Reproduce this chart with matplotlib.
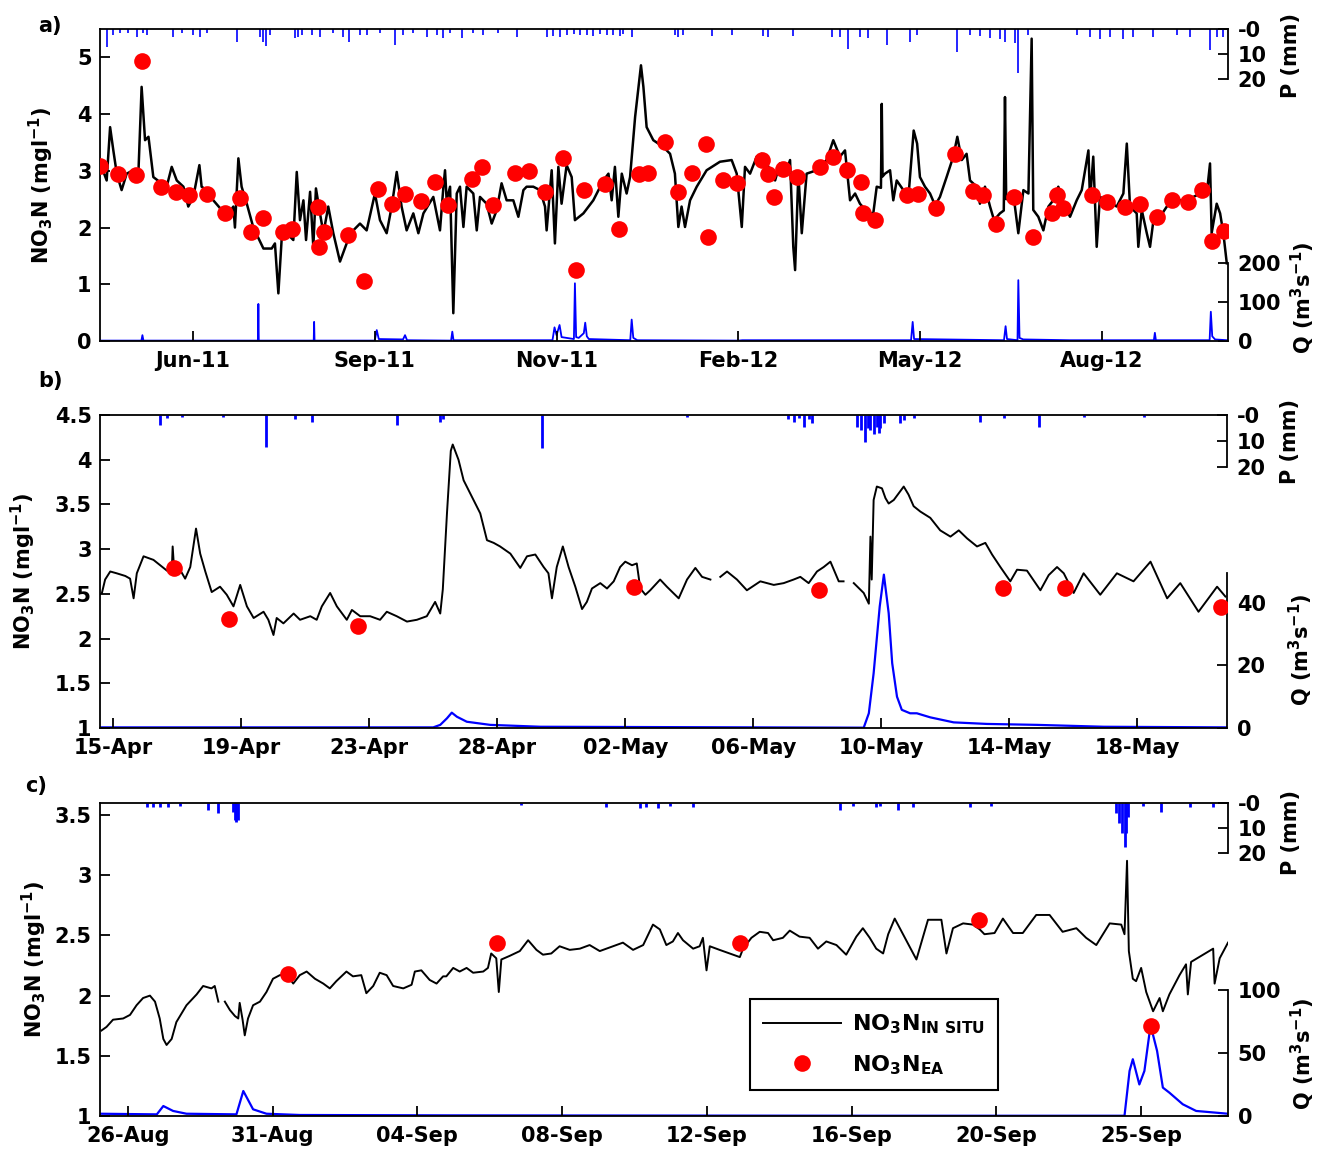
"""Three-panel NO3-N time series with discharge (Q) and rainfall (P) on twin axes."""

import numpy as np
import matplotlib

matplotlib.use("Agg")
import matplotlib.pyplot as plt
from matplotlib.ticker import FormatStrFormatter

# ---------------------------------------------------------------- panel a
# x: days from the left edge of the record (Apr 2011 - Oct 2012)
a_day = [0.8, 3.3, 5.0, 6.6, 8.3, 10.7, 13.2, 16.5, 19.0, 20.6, 22.3, 24.0, 26.4,
         29.7, 33.0, 35.5, 38.0, 41.3, 43.7, 46.2, 49.2, 50.3, 52.8, 56.1, 60.2,
         62.7, 66.0, 66.8, 68.5, 70.1, 72.6, 75.9, 80.9, 85.0, 86.6, 88.3, 89.9,
         92.4, 95.7, 97.4, 99.0, 100.7, 102.0, 104.0, 105.6, 106.9, 108.9, 110.6,
         113.0, 115.5, 118.8, 122.1, 125.4, 128.7, 132.0, 136.1, 138.6, 141.9,
         144.4, 146.9, 149.3, 151.8, 155.1, 157.6, 160.1, 165.0, 168.3, 170.0,
         170.8, 171.6, 173.3, 174.9, 176.6, 178.2, 179.9, 181.5, 184.8, 186.5,
         188.1, 191.4, 193.9, 196.4, 198.8, 201.3, 204.6, 207.1, 209.6, 211.2,
         214.5, 217.8, 220.3, 221.1, 223.6, 225.2, 226.9, 228.5, 231.0, 233.5,
         235.1, 239.3, 244.2, 249.2, 251.7, 253.3, 254.9, 256.6, 258.3, 260.7,
         262.4, 264.9, 267.8, 269.0, 270.6, 273.9, 278.9, 282.2, 284.6, 286.3,
         287.9, 289.6, 292.1, 295.4, 300.3, 306.9, 312.7, 315.2, 317.7, 319.3,
         321.8, 325.1, 327.6, 330.9, 334.2, 336.6, 339.9, 341.6, 343.2, 344.1,
         345.7, 347.4, 349.8, 354.8, 359.7, 363.0, 366.3, 368.8, 371.3, 373.8,
         376.2, 380.4, 382.8, 384.5, 386.6, 387.0, 387.4, 388.6, 391.1, 392.7,
         394.4, 397.7, 400.2, 402.8, 404.5, 405.9, 408.4, 410.9, 413.4, 415.8,
         419.1, 422.4, 424.4, 426.6, 429.0, 430.7, 434.0, 435.6, 438.1, 440.6,
         442.6, 445.5, 447.4, 448.0, 448.6, 449.7, 452.1, 454.6, 457.1, 459.6,
         461.2, 462.0, 464.5, 467.0, 469.5, 471.9, 474.4, 476.9, 480.2, 483.5,
         486.0, 489.3, 490.1, 491.7, 493.4, 495.0, 498.3, 503.3, 506.6, 508.3,
         509.9, 513.2, 514.0, 515.7, 518.2, 519.8, 521.5, 524.8, 528.1, 531.4,
         536.3, 541.3, 544.6, 547.9, 549.5, 550.3, 552.8, 554.5, 556.1, 557.8]
a_no3 = [3.07, 2.83, 3.77, 3.36, 2.95, 2.66, 2.95, 3.01, 2.95, 4.48, 3.54, 3.60, 2.89,
         2.80, 2.72, 3.07, 2.83, 2.72, 2.37, 2.54, 3.10, 2.72, 2.66, 2.48, 2.31,
         2.19, 2.37, 2.00, 3.22, 2.72, 2.43, 2.00, 1.63, 1.63, 1.72, 0.84, 1.78,
         1.90, 1.78, 2.98, 2.13, 2.48, 1.78, 2.63, 1.66, 2.69, 2.25, 1.90,
         2.37, 1.90, 1.40, 1.72, 1.95, 2.07, 1.95, 2.60, 2.13, 1.90,
         2.37, 2.98, 2.37, 1.95, 2.25, 1.90, 2.25, 2.54, 1.95, 2.72,
         3.01, 2.48, 2.72, 0.49, 2.60, 2.72, 2.01, 2.72, 2.60, 1.95,
         2.54, 2.42, 2.07, 2.31, 2.78, 2.48, 2.48, 2.19, 2.66, 2.72,
         2.72, 2.66, 2.37, 1.95, 3.01, 1.72, 3.07, 2.42, 3.10, 2.89,
         2.13, 2.25, 2.48, 2.83, 2.95, 2.48, 3.07, 2.19, 2.95, 2.60,
         2.89, 3.95, 4.86, 4.48, 3.77, 3.54, 3.42, 3.30, 2.95, 2.01,
         2.37, 2.01, 2.48, 2.72, 3.01, 3.16, 3.19, 2.95, 2.01, 3.07,
         2.95, 3.25, 3.30, 3.07, 2.83, 3.13, 3.01, 3.19, 1.66, 1.25,
         2.95, 1.90, 2.95, 3.01, 3.19, 3.54, 3.25, 3.36, 2.48, 2.60,
         2.42, 2.25, 2.25, 2.72, 2.70, 4.18, 2.90, 2.95, 3.01, 2.48,
         2.83, 2.66, 2.54, 3.71, 3.48, 2.89, 2.72, 2.60, 2.39, 2.54,
         2.89, 3.25, 3.60, 3.19, 3.30, 2.83, 2.72, 2.42, 2.72, 2.37,
         2.13, 2.25, 2.30, 4.30, 2.50, 2.54, 2.60, 1.90, 2.66, 2.60,
         5.33, 2.31, 2.19, 1.95, 2.37, 2.48, 2.72, 2.42, 2.19, 2.48,
         2.66, 3.36, 2.48, 3.25, 1.66, 2.54, 2.48, 2.37, 2.60, 3.48,
         2.37, 2.25, 1.66, 2.31, 1.90, 1.66, 2.13, 2.19, 2.37, 2.48,
         2.48, 2.54, 2.60, 2.60, 3.13, 1.90, 2.42, 2.25, 1.90, 1.37]

a_ea_day = [0.0, 9.1, 17.8, 21.0, 30.2, 37.6, 44.2, 53.1, 61.9, 69.3, 74.6, 80.9,
            90.4, 94.9, 108.1, 108.4, 111.1, 122.9, 130.9, 137.5, 144.4, 151.0,
            158.7, 165.8, 172.4, 184.0, 188.9, 194.7, 205.4, 212.5, 220.3, 229.0,
            235.6, 239.6, 250.0, 257.1, 267.0, 271.5, 279.8, 285.9, 293.2, 299.8,
            300.8, 308.6, 315.2, 327.6, 330.9, 333.7, 338.3, 344.9, 356.4, 363.0,
            369.9, 376.6, 377.9, 383.7, 399.3, 405.1, 413.9, 423.3, 432.3, 437.3,
            443.6, 452.5, 461.7, 471.1, 473.6, 476.6, 490.9, 498.3, 507.4, 514.9,
            523.1, 530.5, 538.8, 545.4, 550.3, 556.4]
a_ea_no3 = [3.09, 2.95, 2.92, 4.94, 2.71, 2.63, 2.57, 2.60, 2.25, 2.52, 1.92, 2.16,
            1.92, 1.98, 2.36, 1.66, 1.92, 1.87, 1.06, 2.68, 2.41, 2.59,
            2.47, 2.81, 2.40, 2.86, 3.07, 2.39, 2.97, 3.00, 2.63, 3.22,
            1.26, 2.66, 2.76, 1.98, 2.95, 2.96, 3.51, 2.63, 2.97, 3.48,
            1.83, 2.83, 2.78, 3.19, 2.95, 2.54, 3.04, 2.89, 3.07, 3.25,
            3.01, 2.81, 2.25, 2.13, 2.57, 2.60, 2.35, 3.29, 2.65, 2.57,
            2.07, 2.54, 1.83, 2.25, 2.57, 2.34, 2.57, 2.45, 2.37, 2.41,
            2.19, 2.48, 2.45, 2.66, 1.77, 1.94]

a_q_day = [0.0, 20.5, 21.0, 21.5, 78.2, 78.4, 78.6, 105.8, 106.0, 106.2, 136.0,
           137.0, 138.0, 150.0, 151.0, 152.0, 173.8, 174.4, 175.0, 224.0, 225.0,
           226.0, 227.5, 228.5, 234.6, 235.1, 235.7, 237.0, 239.5, 240.2, 241.0,
           242.0, 262.5, 263.2, 264.0, 266.0, 316.0, 318.0, 401.5, 402.3, 403.0,
           447.5, 448.3, 449.0, 454.2, 454.6, 455.2, 457.0, 480.0, 500.0, 521.7,
           522.2, 522.7, 549.3, 549.9, 550.6, 552.0, 558.0]
a_q = [1, 1, 15, 1, 1, 95, 1, 1, 49, 1, 1,
       28, 5, 4, 15, 2, 1, 24, 2, 2, 35,
       15, 41, 10, 5, 148, 10, 8, 20, 47, 12,
       5, 2, 55, 8, 2, 1, 2, 2, 49, 5,
       2, 38, 5, 2, 156, 8, 4, 2, 2, 2,
       21, 2, 2, 75, 12, 4, 2]

a_p_day = [3.3, 6.6, 9.9, 14.0, 18.2, 21.5, 23.1, 36.3, 40.4, 46.2, 49.5, 52.8,
           67.7, 79.2, 80.9, 82.0, 84.2, 96.5, 98.2, 99.8, 104.8, 108.9, 115.5,
           120.5, 123.4, 128.7, 132.0, 138.6, 146.0, 150.2, 155.1, 161.7, 166.7,
           170.0, 173.3, 179.0, 184.8, 189.8, 197.2, 206.3, 221.1, 224.4, 227.7,
           231.0, 234.6, 237.6, 240.9, 244.2, 247.5, 250.8, 254.1, 257.4, 259.0,
           263.2, 284.7, 286.3, 288.8, 302.8, 312.7, 328.4, 330.9, 343.2, 362.2,
           366.3, 370.5, 376.2, 380.4, 389.4, 401.0, 404.3, 424.1, 430.7, 435.6,
           440.6, 445.5, 448.0, 452.9, 454.3, 459.6, 483.5, 490.1, 495.0, 500.0,
           506.6, 511.6, 521.5, 533.1, 539.6, 549.5, 552.8, 556.1]
a_p = [7.1, 2.4, 1.7, 1.7, 3.1, 1.7, 2.4, 3.1, 1.7, 2.4, 3.1, 1.7,
       5.1, 3.1, 5.1, 6.7, 2.4, 3.7, 3.1, 2.4, 2.4, 3.1, 1.7,
       3.1, 5.3, 2.4, 2.4, 1.7, 6.4, 2.4, 1.7, 3.1, 2.4,
       3.7, 1.7, 3.7, 1.7, 2.4, 1.7, 3.1, 3.1, 2.8, 3.3,
       2.4, 2.0, 2.4, 2.4, 2.8, 2.0, 2.4, 2.4, 2.8, 2.0,
       3.1, 2.4, 3.1, 2.4, 2.8, 2.4, 2.8, 3.1, 2.8, 3.3,
       3.3, 8.1, 3.1, 3.7, 6.4, 5.1, 2.4, 9.3, 2.4, 2.8,
       3.7, 4.1, 5.1, 5.7, 17.5, 2.4, 2.4, 3.1, 4.1, 3.1,
       4.1, 3.1, 3.1, 2.4, 3.1, 8.4, 3.1, 3.1]

a_tick_day = [46, 136, 226, 316, 406, 496]
a_tick_label = ["Jun-11", "Sep-11", "Nov-11", "Feb-12", "May-12", "Aug-12"]

# ---------------------------------------------------------------- panel b
# x: days from 15-Apr (tick spacing of 4)
b_t = [-0.35, -0.25, -0.09, 0.11, 0.38, 0.53, 0.64, 0.74, 0.95, 1.26, 1.47, 1.68,
       1.83, 1.86, 1.91, 2.09, 2.25, 2.41, 2.59, 2.72, 2.88, 3.08, 3.34, 3.55,
       3.76, 3.97, 4.18, 4.39, 4.70, 4.85, 5.01, 5.11, 5.32, 5.64, 5.84, 6.16,
       6.36, 6.52, 6.78, 6.99, 7.30, 7.46, 7.72, 8.03, 8.34, 8.55, 8.86, 9.18,
       9.49, 9.80, 10.06, 10.22, 10.30, 10.43, 10.55, 10.61, 10.79, 10.95, 11.26,
       11.47, 11.68, 11.89, 12.09, 12.41, 12.72, 12.93, 13.19, 13.45, 13.60, 13.71,
       13.86, 14.05, 14.23, 14.44, 14.65, 14.80, 14.96, 15.22, 15.43, 15.64, 15.84,
       16.00, 16.21, 16.36, 16.47, 16.63, 16.78, 17.09, 17.30, 17.67, 17.93, 18.19,
       18.40, 18.66, 18.80, 18.97, 19.18, 19.49, 19.80, 20.22, 20.64, 20.95, 21.26,
       21.47, 21.73, 21.99, 22.20, 22.41, 22.67, 22.82, 23.00, 23.14, 23.45, 23.61,
       23.66, 23.70, 23.76, 23.86, 24.02, 24.13, 24.23, 24.39, 24.70, 24.85, 25.01,
       25.22, 25.53, 25.84, 26.16, 26.42, 26.68, 26.99, 27.25, 27.46, 27.72, 28.03,
       28.24, 28.55, 28.97, 29.23, 29.49, 29.70, 30.01, 30.32, 30.84, 31.36, 31.88,
       32.41, 32.93, 33.34, 33.91, 34.49, 34.75]
b_no3 = [2.51, 2.66, 2.75, 2.73, 2.70, 2.67, 2.45, 2.73, 2.92, 2.88, 2.82, 2.76,
         2.73, 3.03, 2.75, 2.77, 2.67, 2.80, 3.23, 2.95, 2.75, 2.52, 2.58, 2.49,
         2.36, 2.60, 2.36, 2.23, 2.30, 2.21, 2.04, 2.23, 2.17, 2.28, 2.21, 2.25,
         2.21, 2.36, 2.51, 2.36, 2.21, 2.32, 2.25, 2.25, 2.21, 2.30, 2.25, 2.19,
         2.21, 2.25, 2.41, 2.28, 2.55, 3.40, 4.10, 4.17, 4.00, 3.77, 3.55,
         3.40, 3.10, 3.07, 3.03, 2.95, 2.79, 2.92, 2.94, 2.80, 2.73, 2.45,
         2.80, 3.03, 2.80, 2.58, 2.33, 2.41, 2.56, 2.62, 2.56, 2.64, 2.80,
         2.86, 2.82, 2.84, 2.56, 2.49, 2.54, 2.66, 2.58, 2.45, 2.66, 2.79,
         2.69, 2.66, np.nan, 2.69, 2.75, 2.66, 2.54, 2.64, 2.60, 2.62, 2.66,
         2.69, 2.62, 2.75, 2.80, 2.86, 2.64, 2.64, np.nan, 2.62, 2.51, 2.39,
         3.14, 2.66, 3.55, 3.70, 3.68, 3.57, 3.51, 3.55, 3.70, 3.61, 3.48,
         3.42, 3.35, 3.21, 3.14, 3.21, 3.12, 3.03, 3.07, 2.94, 2.80, 2.64,
         2.77, 2.76, 2.54, 2.71, 2.80, 2.73, 2.51, 2.73, 2.49, 2.73, 2.64,
         2.86, 2.45, 2.62, 2.30, 2.58, 2.47]

b_ea_t = [1.91, 3.61, 7.65, 16.27, 22.04, 27.79, 29.75, 34.62]
b_ea_no3 = [2.79, 2.22, 2.14, 2.58, 2.54, 2.57, 2.57, 2.35]

b_q_t = [-0.41, 10.00, 10.22, 10.43, 10.58, 10.74, 11.05, 11.78, 13.35, 23.45,
         23.61, 23.76, 23.95, 24.08, 24.23, 24.34, 24.49, 24.64, 24.90, 25.11,
         25.53, 26.26, 27.30, 28.86, 30.95, 34.80]
b_q = [0.2, 0.2, 1.0, 3.1, 4.9, 3.6, 2.0, 1.0, 0.4, 0.1,
       4.7, 17.5, 38.8, 49.0, 36.7, 20.7, 10.0, 5.8, 4.7, 4.7,
       3.4, 1.8, 1.3, 1.0, 0.4, 0.2]

b_p_t = [1.47, 1.68, 2.14, 3.44, 4.77, 5.69, 6.21, 8.86, 10.22, 10.32, 13.40,
         17.93, 21.10, 21.26, 21.42, 21.57, 21.73, 21.84, 23.24, 23.35, 23.49,
         23.58, 23.66, 23.76, 23.87, 23.92, 23.97, 24.07, 24.59, 24.70, 25.01,
         27.09, 27.82, 28.92, 30.32, 32.20]
b_p = [3.8, 1.3, 0.9, 0.6, 12.2, 1.7, 2.6, 3.8, 2.6, 1.7, 12.8,
       0.6, 1.7, 2.6, 1.3, 4.5, 1.7, 2.9, 4.5, 5.8, 10.3,
       5.1, 5.8, 7.1, 4.5, 6.8, 5.1, 3.2, 2.9, 1.9, 1.3,
       2.6, 1.3, 4.5, 0.9, 0.9]

b_tick_t = [0, 4, 8, 12, 16, 20, 24, 28, 32]
b_tick_label = ["15-Apr", "19-Apr", "23-Apr", "28-Apr", "02-May", "06-May",
                "10-May", "14-May", "18-May"]

# ---------------------------------------------------------------- panel c
# x: days from 26-Aug (tick spacing of 4)
c_t = [-0.73, -0.59, -0.41, -0.13, 0.06, 0.24, 0.42, 0.61, 0.75, 0.88, 0.98, 1.07,
       1.21, 1.34, 1.62, 1.90, 2.08, 2.31, 2.40, 2.50, 2.59, 2.68, 2.82, 2.96,
       3.05, 3.09, 3.17, 3.23, 3.32, 3.46, 3.65, 3.83, 4.01, 4.20, 4.38, 4.57,
       4.75, 4.94, 5.17, 5.40, 5.58, 5.76, 6.04, 6.22, 6.45, 6.59, 6.78, 6.96,
       7.15, 7.33, 7.61, 7.84, 7.93, 8.11, 8.34, 8.53, 8.71, 8.80, 8.99, 9.17,
       9.36, 9.54, 9.82, 9.95, 10.04, 10.18, 10.25, 10.32, 10.55, 10.83, 11.06,
       11.29, 11.47, 11.70, 11.93, 12.21, 12.49, 12.76, 13.04, 13.41, 13.68, 13.96,
       14.24, 14.51, 14.70, 14.88, 15.06, 15.20, 15.34, 15.62, 15.80, 15.89, 15.99,
       16.08, 16.35, 16.63, 16.91, 17.00, 17.23, 17.46, 17.69, 17.83, 18.10, 18.29,
       18.56, 18.84, 19.07, 19.30, 19.58, 19.85, 20.13, 20.31, 20.50, 20.68, 20.87,
       21.01, 21.19, 21.42, 21.79, 22.11, 22.48, 22.62, 22.80, 23.08, 23.35, 23.54,
       23.67, 23.95, 24.18, 24.46, 24.73, 25.10, 25.47, 25.83, 26.21, 26.48, 26.76,
       27.13, 27.45, 27.54, 27.61, 27.66, 27.77, 27.86, 28.00, 28.14, 28.33, 28.51,
       28.60, 28.78, 29.06, 29.24, 29.29, 29.38, 29.71, 29.99, 30.03, 30.17, 30.40]
c_no3 = [1.71, 1.74, 1.80, 1.81, 1.84, 1.92, 1.98, 2.00, 1.95, 1.81, 1.64, 1.59,
         1.64, 1.78, 1.92, 2.01, 2.08, 2.06, 2.08, 1.95, np.nan, 1.95, 1.88, 1.83,
         1.81, 1.94, 1.80, 1.67, 1.81, 1.92, 1.95, 2.03, 2.14, 2.17, 2.18, 2.10,
         2.17, 2.20, 2.14, 2.10, 2.06, 2.12, 2.20, 2.16, 2.17, 2.02, 2.08, 2.19,
         2.17, 2.08, 2.06, 2.09, 2.20, 2.21, 2.13, 2.10, 2.16, 2.16, 2.23, 2.20,
         2.23, 2.19, 2.20, 2.23, 2.35, 2.31, 2.03, 2.30, 2.33, 2.37, 2.46,
         2.38, 2.34, 2.35, 2.41, 2.38, 2.39, 2.42, 2.37, 2.41, 2.44, 2.38,
         2.42, 2.59, 2.55, 2.42, 2.45, 2.52, 2.46, 2.39, 2.41, 2.48, 2.21,
         2.41, 2.38, 2.35, 2.32, 2.39, 2.48, 2.53, 2.52, 2.46, 2.48, 2.54,
         2.49, 2.48, 2.39, 2.45, 2.42, 2.34, 2.49, 2.56, 2.48, 2.39, 2.35,
         2.51, 2.64, 2.51, 2.30, 2.63, 2.63, 2.35, 2.56, 2.60, 2.59, 2.55,
         2.51, 2.52, 2.64, 2.52, 2.52, 2.67, 2.67, 2.53, 2.56, 2.48, 2.42,
         2.60, 2.59, 2.51, 3.12, 2.37, 2.14, 2.12, 2.23, 2.03, 1.87, 1.98,
         1.87, 2.01, 2.17, 2.26, 2.01, 2.28, 2.34, 2.39, 2.10, 2.31, 2.44]

c_ea_t = [4.43, 10.21, 16.91, 23.52, 28.26]
c_ea_no3 = [2.18, 2.44, 2.44, 2.63, 1.75]

c_q_t = [-0.77, 0.80, 0.98, 1.25, 1.62, 3.00, 3.19, 3.46, 3.83, 4.75, 8.90, 20.50,
         27.54, 27.68, 27.77, 27.95, 28.09, 28.26, 28.44, 28.60, 28.78, 29.15,
         29.52, 30.40]
c_q = [1.8, 1.3, 7.9, 4.0, 1.8, 1.3, 19.8, 5.3, 1.8, 0.8, 0.5, 0.2,
       0.2, 35.7, 45.0, 25.0, 35.7, 72.0, 51.6, 22.5, 18.5, 9.3,
       4.0, 1.8]

c_p_t = [0.52, 0.70, 0.88, 1.10, 1.44, 2.22, 2.50, 2.91, 2.96, 3.00, 3.05, 10.87,
         13.22, 14.14, 14.31, 14.65, 14.97, 15.62, 19.67, 20.04, 20.68, 20.77,
         21.28, 21.69, 23.26, 23.86, 27.31, 27.40, 27.47, 27.54, 27.59, 27.63,
         28.05, 28.56, 29.35, 29.99]
c_p = [1.5, 1.5, 1.5, 1.5, 1.0, 2.8, 4.1, 3.5, 6.8, 7.5, 6.8, 0.8,
       1.5, 2.1, 1.5, 2.1, 1.2, 1.7, 2.8, 1.2, 1.5, 1.2,
       2.8, 1.7, 1.7, 1.2, 4.1, 8.1, 12.1, 17.5, 12.1, 5.5,
       1.2, 3.5, 1.5, 1.5]

c_tick_t = [0, 4, 8, 12, 16, 20, 24, 28]
c_tick_label = ["26-Aug", "31-Aug", "04-Sep", "08-Sep", "12-Sep", "16-Sep",
                "20-Sep", "25-Sep"]

# ---------------------------------------------------------------- style
FONT = 15
plt.rcParams.update({
    "font.family": "DejaVu Sans",
    "font.weight": "bold",
    "font.size": FONT,
    "mathtext.fontset": "custom",
    "mathtext.rm": "DejaVu Sans:bold",
    "mathtext.it": "DejaVu Sans:bold",
    "mathtext.bf": "DejaVu Sans:bold",
    "axes.linewidth": 1.3,
})

BLUE = "#0000ff"
RED = "#ff0000"
W, H = 1321, 1152

fig = plt.figure(figsize=(W / 100, H / 100), dpi=100)


def px_rect(left, top, right, bottom):
    return [left / W, 1 - bottom / H, (right - left) / W, (bottom - top) / H]


def draw_panel(rect, t, no3, ea_t, ea_no3, q_t, q, p_t, p, *, xlim, xticks,
               xticklabels, ylim, yticks, q_lim, q_ticks, q_top, p_lim, lw_black,
               lw_q, lw_p, ylab_x, q_lab_y, p_lab_y):
    ax = fig.add_axes(rect)
    ax_q = ax.twinx()
    ax_p = ax.twinx()
    ax.set_zorder(3)
    ax.patch.set_visible(False)

    ax.plot(t, no3, color="black", lw=lw_black, zorder=2)
    ax.plot(ea_t, ea_no3, "o", color=RED, ms=12, mec="none", zorder=3)
    ax.set_xlim(*xlim)
    ax.set_ylim(*ylim)
    ax.set_xticks(xticks, xticklabels)
    ax.set_yticks(yticks)
    ax.yaxis.set_major_formatter(FormatStrFormatter("%g"))
    ax.spines["right"].set_visible(False)
    ax.tick_params(direction="in", length=7, width=1.3, pad=6)
    ax.tick_params(axis="x", pad=7)
    ax.text(ylab_x, 0.5, r"NO$_3$N (mgl$^{-1}$)", transform=ax.transAxes,
            rotation=90, ha="center", va="center")

    ax_q.plot(q_t, q, color=BLUE, lw=lw_q)
    ax_q.set_ylim(0, q_lim)
    ax_q.set_yticks(q_ticks)
    ax_q.spines["right"].set_bounds(0, q_top)
    for side in ("left", "top", "bottom"):
        ax_q.spines[side].set_visible(False)
    ax_q.tick_params(direction="in", length=7, width=1.3, pad=7)
    ax_q.text(1.066, q_lab_y, r"Q (m$^3$s$^{-1}$)", transform=ax_q.transAxes,
              rotation=90, ha="center", va="center")

    ax_p.vlines(p_t, 0, p, color=BLUE, lw=lw_p)
    ax_p.set_ylim(p_lim, 0)
    ax_p.set_yticks([0, 10, 20], ["-0", "10", "20"])
    ax_p.spines["right"].set_bounds(0, 20)
    for side in ("left", "top", "bottom"):
        ax_p.spines[side].set_visible(False)
    ax_p.tick_params(direction="in", length=7, width=1.3, pad=7)
    ax_p.text(1.056, p_lab_y, "P (mm)", transform=ax_p.transAxes,
              rotation=90, ha="center", va="center")
    return ax


draw_panel(px_rect(100, 29, 1228, 341), a_day, a_no3, a_ea_day, a_ea_no3,
           a_q_day, a_q, a_p_day, a_p,
           xlim=(0, 558.4), xticks=a_tick_day, xticklabels=a_tick_label,
           ylim=(0, 5.5), yticks=[0, 1, 2, 3, 4, 5],
           q_lim=800, q_ticks=[0, 100, 200], q_top=200, p_lim=125,
           lw_black=1.8, lw_q=1.3, lw_p=1.2,
           ylab_x=-0.052, q_lab_y=0.14, p_lab_y=0.915)

draw_panel(px_rect(100, 415, 1227, 728), b_t, b_no3, b_ea_t, b_ea_no3,
           b_q_t, b_q, b_p_t, b_p,
           xlim=(-0.41, 34.8), xticks=b_tick_t, xticklabels=b_tick_label,
           ylim=(1, 4.5), yticks=[1, 1.5, 2, 2.5, 3, 3.5, 4, 4.5],
           q_lim=100, q_ticks=[0, 20, 40], q_top=49.5, p_lim=120,
           lw_black=1.4, lw_q=1.6, lw_p=2.0,
           ylab_x=-0.068, q_lab_y=0.25, p_lab_y=0.915)

ax_c = draw_panel(px_rect(100, 803, 1228, 1116), c_t, c_no3, c_ea_t, c_ea_no3,
                  c_q_t, c_q, c_p_t, c_p,
                  xlim=(-0.77, 30.4), xticks=c_tick_t, xticklabels=c_tick_label,
                  ylim=(1, 3.6), yticks=[1, 1.5, 2, 2.5, 3, 3.5],
                  q_lim=248, q_ticks=[0, 50, 100], q_top=100, p_lim=125,
                  lw_black=1.4, lw_q=1.6, lw_p=2.0,
                  ylab_x=-0.058, q_lab_y=0.2, p_lab_y=0.905)

handles = ax_c.get_lines()[:2]
leg = ax_c.legend(handles,
                  [r"NO$_3$N$_{\mathrm{IN\ SITU}}$", r"NO$_3$N$_{\mathrm{EA}}$"],
                  loc="lower left", bbox_to_anchor=(0.576, 0.083),
                  borderaxespad=0, frameon=True, fancybox=False,
                  edgecolor="black", framealpha=1,
                  handlelength=3.5, handletextpad=0.5, borderpad=0.6,
                  labelspacing=0.75, fontsize=16)
leg.get_frame().set_linewidth(1.5)

for letter, (x, y) in zip(["a)", "b)", "c)"], [(50, 26), (50, 381), (36, 786)]):
    fig.text(x / W, 1 - y / H, letter, ha="center", va="center")

fig.savefig("out.png", dpi=100)
